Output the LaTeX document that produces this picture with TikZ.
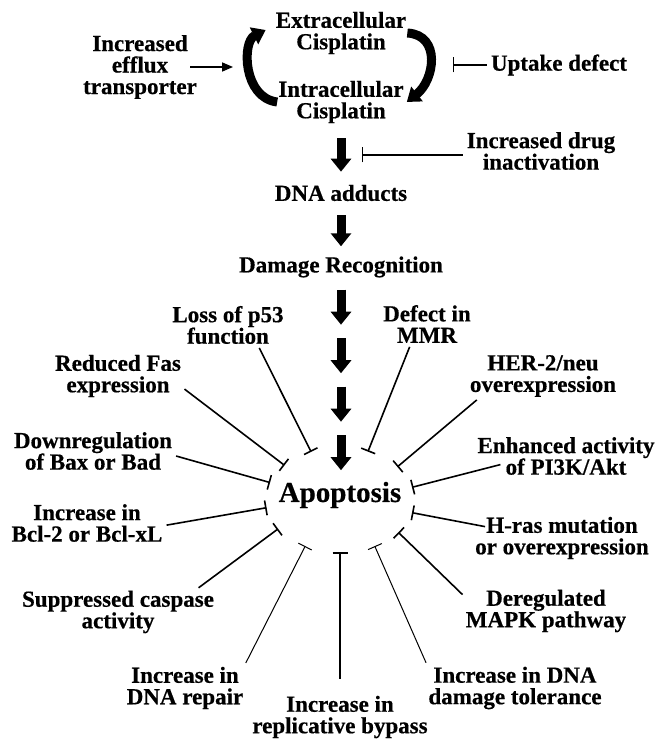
\documentclass[tikz,border=0pt]{standalone}
\usepackage{fontspec}
\setmainfont{Liberation Serif}[BoldFeatures={FakeBold=0.5}]
\usepackage{tikz}
\usetikzlibrary{arrows.meta,calc,shapes.geometric}
\definecolor{ink}{HTML}{000000}

\begin{document}
\begin{tikzpicture}[x=1pt,y=1pt,
  lab/.style={font=\fontsize{23}{21.5}\selectfont\bfseries,align=center,inner sep=1pt,text=ink},
  bigarrow/.style={ink,line width=9pt,-{Triangle[length=13pt,width=20pt]}},
  curl/.style={ink,line width=9pt,-{Triangle[length=13pt,width=18pt]}},
  inhib/.style={ink,line width=1.6pt,shorten <=3pt,-{Bar[width=15pt]}},
  faint/.style={line width=1pt}]
  \useasboundingbox (0,0) rectangle (667,742);
  % uptake and efflux of cisplatin
  \node[lab] (extra) at (341,709) {Extracellular\\Cisplatin};
  \node[lab] (intra) at (341,640) {Intracellular\\Cisplatin};
  \node[lab] (efflux) at (140,675) {Increased\\efflux\\transporter};
  \node[lab] (uptake) at (559,677) {Uptake defect};
  \node[lab] (inact) at (541,591) {Increased drug\\inactivation};
  \draw[curl] (intra.west) .. controls +(-34,4) and +(-24,-12) .. ([xshift=-9pt,yshift=3pt]extra.west);
  \draw[curl] (extra.east) .. controls +(34,-2) and +(28,22) .. ([xshift=2pt,yshift=0pt]intra.east);
  \draw[ink,line width=1.6pt,-{Triangle[length=11pt,width=9pt]}] ([xshift=-8pt]efflux.east) -- ++(43,0);
  \draw[inhib] (uptake.west) -- ++(-37,0);
  \draw[inhib] (inact.west) ++(0,-4) -- ++(-104,0);
  % main pathway
  \node[lab] (dna) at (341,549) {DNA adducts};
  \node[lab] (damage) at (341,475) {Damage Recognition};
  \node[font=\fontsize{29}{30}\selectfont\bfseries,inner sep=1pt] (apo) at (340,247) {Apoptosis};
  \node[ellipse,minimum width=148pt,minimum height=104pt,inner sep=0pt] (ring) at (340,242) {};
  \draw[bigarrow] ([yshift=-14pt]intra.south) -- ([yshift=12pt]dna.north);
  \draw[bigarrow] ([yshift=-13pt]dna.south) -- ([yshift=9pt]damage.north);
  \foreach \k in {0,...,3}
    \draw[bigarrow] ($(damage.south)+(0,-11-48.5*\k)$) -- ++(0,-35);
  % resistance mechanisms
  \node[lab] (p53) at (228,417) {Loss of p53\\function};
  \node[lab] (mmr) at (427,418) {Defect in\\MMR};
  \node[lab] (fas) at (118,366) {Reduced Fas\\expression};
  \node[lab] (her) at (543,366) {HER-2/neu\\overexpression};
  \node[lab] (bax) at (93,291) {Downregulation\\of Bax or Bad};
  \node[lab] (pi3k) at (566,286) {Enhanced activity\\of PI3K/Akt};
  \node[lab] (bcl) at (87,219) {Increase in\\Bcl-2 or Bcl-xL};
  \node[lab] (hras) at (562,204) {H-ras mutation\\or overexpression};
  \node[lab] (casp) at (118,130) {Suppressed caspase\\activity};
  \node[lab] (mapk) at (546,131) {Deregulated\\MAPK pathway};
  \node[lab] (repair) at (185,54) {Increase in\\DNA repair};
  \node[lab] (toler) at (515,54) {Increase in DNA\\damage tolerance};
  \node[lab] (bypass) at (340,25) {Increase in\\replicative bypass};
  \foreach \src/\dst in {p53.326/121,mmr.231/60,fas.350/148,her.199/30,
                         bax.357/166,bcl.358/186,casp.16/205,mapk.170/331}
    \draw[inhib] (\src) -- (ring.\dst);
  \draw[inhib] ([xshift=27pt]pi3k.185) -- (ring.10);
  \draw[inhib] ([xshift=14pt]hras.173) -- (ring.350);
  \draw[inhib,faint] (repair.north east) -- (ring.233);
  \draw[inhib,faint] (toler.north west) -- (ring.307);
  \draw[inhib,shorten <=16pt] (bypass.north) -- (ring.270);
\end{tikzpicture}
\end{document}
